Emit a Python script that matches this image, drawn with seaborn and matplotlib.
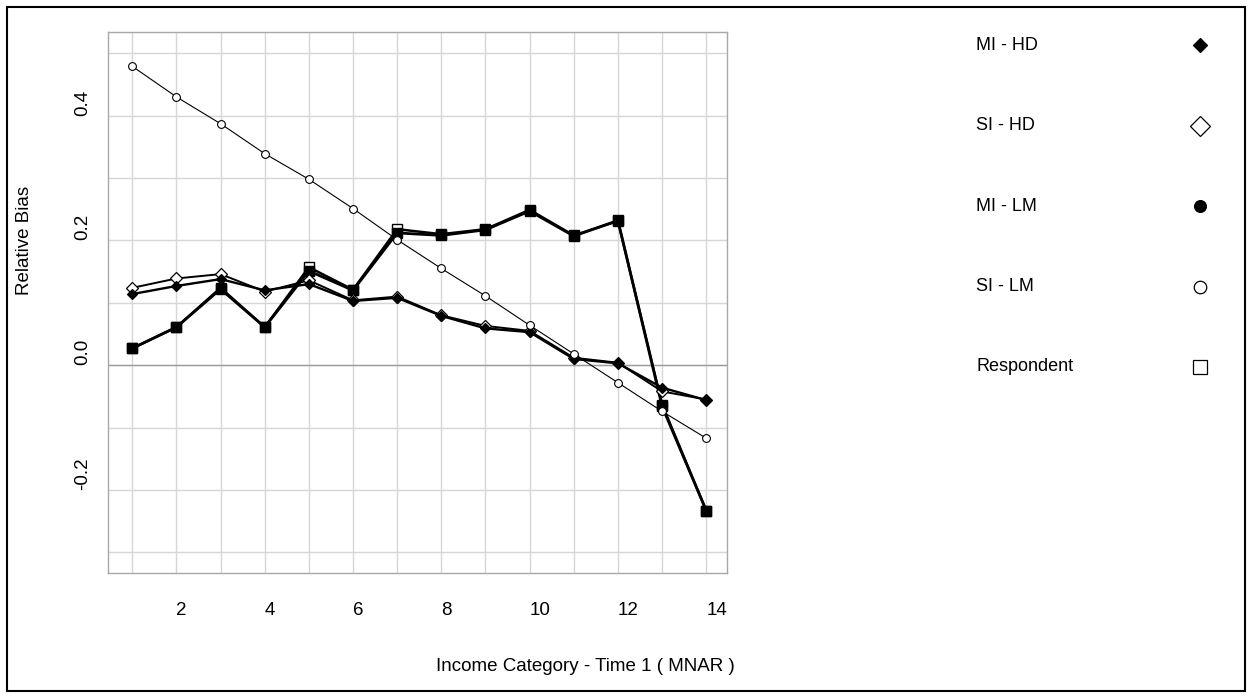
import pandas as pd
import seaborn as sns
import matplotlib.pyplot as plt
from matplotlib.lines import Line2D
from matplotlib.patches import Rectangle

# Income categories (x axis)
income_cat = list(range(1, 15))

# Relative bias per imputation method
mi_hd = [0.114, 0.127, 0.138, 0.120, 0.130, 0.103, 0.108, 0.079, 0.059, 0.053, 0.010, 0.003, -0.036, -0.056]
si_hd = [0.124, 0.139, 0.146, 0.118, 0.136, 0.104, 0.110, 0.080, 0.063, 0.055, 0.012, 0.004, -0.042, -0.055]
mi_lm = [0.027, 0.061, 0.122, 0.061, 0.151, 0.120, 0.212, 0.208, 0.217, 0.247, 0.207, 0.232, -0.066, -0.233]
si_lm = [0.479, 0.430, 0.387, 0.339, 0.298, 0.251, 0.201, 0.155, 0.111, 0.064, 0.018, -0.028, -0.074, -0.117]
respondent = [0.027, 0.061, 0.124, 0.061, 0.157, 0.121, 0.218, 0.210, 0.218, 0.249, 0.208, 0.231, -0.063, -0.233]

legend_labels = ["MI - HD", "SI - HD", "MI - LM", "SI - LM", "Respondent"]

# grid / tick labels
x_tick_labels = [str(v) if v % 2 == 0 else "" for v in income_cat]
y_grid = [-0.3, -0.2, -0.1, 0.0, 0.1, 0.2, 0.3, 0.4, 0.5]
y_tick_labels = ["", "-0.2", "", "0.0", "", "0.2", "", "0.4", ""]

sns.set_style("white")
plt.rcParams['font.family'] = ['Liberation Sans', 'DejaVu Sans']
plt.rcParams['text.color'] = 'black'

W, H = 1252, 698
fig = plt.figure(figsize=(W / 100, H / 100), dpi=100)
ax = fig.add_axes([108 / W, 1 - 573 / H, (727 - 108) / W, (573 - 32) / H])

# series, drawn back to front
sns.lineplot(x=income_cat, y=respondent, ax=ax, color="black", lw=1.8,
             marker="s", markersize=7.5, markerfacecolor="white",
             markeredgecolor="black", markeredgewidth=1, zorder=3)
sns.lineplot(x=income_cat, y=mi_lm, ax=ax, color="black", lw=2.0,
             marker="s", markersize=7.4, markerfacecolor="black",
             markeredgecolor="black", markeredgewidth=1, zorder=4)
sns.lineplot(x=income_cat, y=si_hd, ax=ax, color="black", lw=1.4,
             marker="D", markersize=5.8, markerfacecolor="white",
             markeredgecolor="black", markeredgewidth=0.9, zorder=5)
sns.lineplot(x=income_cat, y=mi_hd, ax=ax, color="black", lw=1.7,
             marker="D", markersize=5.5, markerfacecolor="black",
             markeredgecolor="black", markeredgewidth=0.9, zorder=6)
sns.lineplot(x=income_cat, y=si_lm, ax=ax, color="black", lw=0.8,
             marker="o", markersize=5.6, markerfacecolor="white",
             markeredgecolor="black", markeredgewidth=0.8, zorder=7)

ax.set_xlim(0.45, 14.47)
ax.set_ylim(-0.333, 0.534)
ax.set_xticks(income_cat)
ax.set_xticklabels(x_tick_labels)
ax.set_yticks(y_grid)
ax.set_yticklabels(y_tick_labels, rotation=90, va="bottom", ha="center")
for lab in ax.get_xticklabels():
    lab.set_ha("left")
ax.tick_params(axis="both", length=0, labelsize=13.5, colors="black")
ax.tick_params(axis="x", pad=21)
ax.tick_params(axis="y", pad=18)
ax.grid(True, color="#d6d6d6", lw=1.0)
ax.set_axisbelow(True)
ax.axhline(0, color="#9c9c9c", lw=1.0, zorder=1.5)
for sp in ax.spines.values():
    sp.set_color("#a8a8a8")
    sp.set_linewidth(1.0)
ax.set_xlabel("")
ax.set_ylabel("")

# axis titles
fig.text(735 / W, 1 - 671 / H, "Income Category - Time 1 ( MNAR )",
         ha="right", va="baseline", fontsize=13.5, color="black")
fig.text(25 / W, 1 - 240 / H, "Relative Bias", rotation=90,
         ha="center", va="center", fontsize=13.5, color="black")

# legend on the right: text left, marker right
leg_y = [45, 126, 206, 287, 367]
leg_style = [
    dict(marker="D", markersize=7.5, markerfacecolor="black"),
    dict(marker="D", markersize=10.5, markerfacecolor="white"),
    dict(marker="o", markersize=8.5, markerfacecolor="black"),
    dict(marker="o", markersize=9, markerfacecolor="white"),
    dict(marker="s", markersize=10, markerfacecolor="white"),
]
for label, yy, st in zip(legend_labels, leg_y, leg_style):
    fig.text(976 / W, 1 - yy / H, label, ha="left", va="center",
             fontsize=13, color="black")
    fig.add_artist(Line2D([1200 / W], [1 - yy / H], transform=fig.transFigure,
                          linestyle="none", markeredgecolor="black",
                          markeredgewidth=0.9, **st))

# outer frame
fig.add_artist(Rectangle((7 / W, 7 / H), (1245 - 7) / W, (691 - 7) / H,
                         transform=fig.transFigure, fill=False,
                         ec="black", lw=1.5))

fig.savefig("out.png", dpi=100)
